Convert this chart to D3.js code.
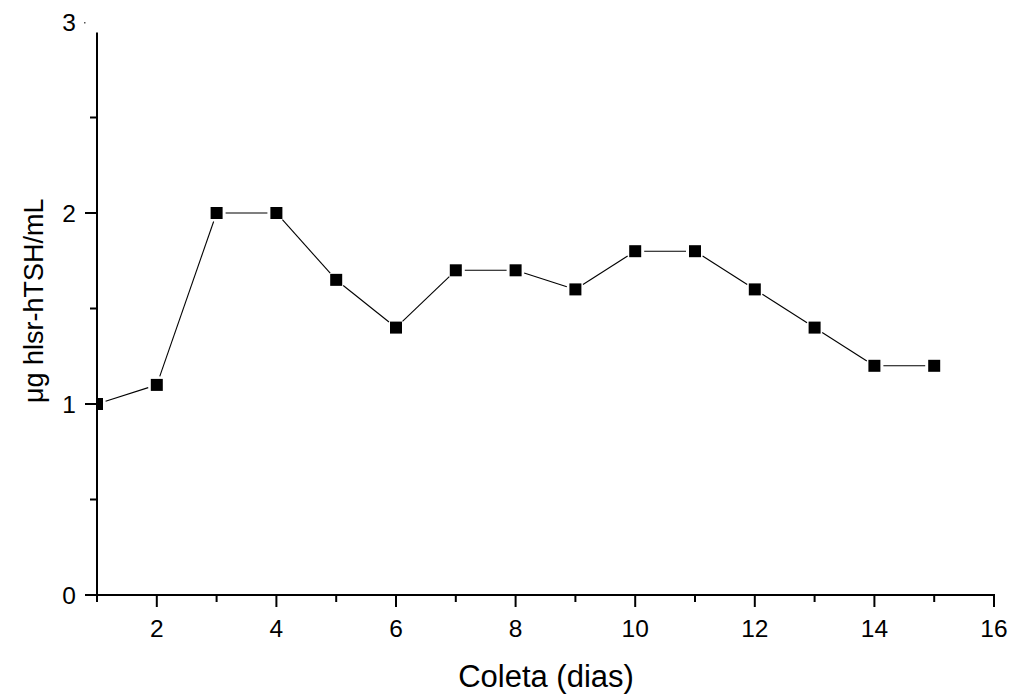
<!DOCTYPE html>
<html>
<head>
<meta charset="utf-8">
<script src="https://cdn.jsdelivr.net/npm/d3@7"></script>
<style>
  html, body { margin: 0; padding: 0; background: #fff; }
  svg { display: block; }
  text { font-family: "Liberation Sans", Arial, sans-serif; fill: #000; }
</style>
</head>
<body>
<svg id="chart" width="1012" height="694"></svg>
<script>
// ---- data ----
const days = [1, 2, 3, 4, 5, 6, 7, 8, 9, 10, 11, 12, 13, 14, 15];
const values = [1.0, 1.1, 2.0, 2.0, 1.65, 1.4, 1.7, 1.7, 1.6, 1.8, 1.8, 1.6, 1.4, 1.2, 1.2];
const xMajorTicks = [2, 4, 6, 8, 10, 12, 14, 16];
const xMinorTicks = [1, 3, 5, 7, 9, 11, 13, 15];
const yMajorTicks = [0, 1, 2, 3];
const yMinorTicks = [0.5, 1.5, 2.5];
const xTitle = "Coleta (dias)";
const yTitle = "\u03BCg hlsr-hTSH/mL";
const yAxisTopValue = 2.945;

// ---- layout ----
const svg = d3.select("#chart");
const x = d3.scaleLinear().domain([1, 16]).range([97, 994]);
const y = d3.scaleLinear().domain([0, 3]).range([595, 22]);

const axisW = 2;
const majorLen = 12, minorLen = 7;

svg.append("defs").append("clipPath").attr("id", "plotclip")
  .append("rect")
  .attr("x", x(1)).attr("y", 0)
  .attr("width", x(16) - x(1) + 10).attr("height", y(0));

// ---- x axis ----
const gx = svg.append("g").attr("transform", `translate(0,${y(0)})`);
gx.append("line")
  .attr("x1", x(1) - majorLen).attr("x2", x(16) + 1)
  .attr("stroke", "#000").attr("stroke-width", axisW);
gx.selectAll(".xmaj").data(xMajorTicks).join("line")
  .attr("x1", d => x(d)).attr("x2", d => x(d))
  .attr("y1", 0).attr("y2", majorLen)
  .attr("stroke", "#000").attr("stroke-width", axisW);
gx.selectAll(".xmin").data(xMinorTicks).join("line")
  .attr("x1", d => x(d)).attr("x2", d => x(d))
  .attr("y1", 0).attr("y2", minorLen)
  .attr("stroke", "#000").attr("stroke-width", axisW);
gx.selectAll(".xlab").data(xMajorTicks).join("text")
  .attr("x", d => x(d)).attr("y", 42)
  .attr("text-anchor", "middle")
  .attr("font-size", 24.5)
  .text(d => d);

// ---- y axis ----
const gy = svg.append("g").attr("transform", `translate(${x(1)},0)`);
gy.append("line")
  .attr("y1", y(0)).attr("y2", y(yAxisTopValue))
  .attr("stroke", "#000").attr("stroke-width", axisW);
gy.selectAll(".ymaj").data(yMajorTicks.filter(d => d < yAxisTopValue)).join("line")
  .attr("y1", d => y(d)).attr("y2", d => y(d))
  .attr("x1", 0).attr("x2", -majorLen)
  .attr("stroke", "#000").attr("stroke-width", axisW);
gy.selectAll(".ytop").data(yMajorTicks.filter(d => d >= yAxisTopValue)).join("rect")
  .attr("x", -majorLen - 1).attr("y", d => y(d))
  .attr("width", 1.5).attr("height", 1.5).attr("fill", "#555");
gy.selectAll(".ymin").data(yMinorTicks).join("line")
  .attr("y1", d => y(d)).attr("y2", d => y(d))
  .attr("x1", 0).attr("x2", -minorLen)
  .attr("stroke", "#000").attr("stroke-width", axisW);
gy.selectAll(".ylab").data(yMajorTicks).join("text")
  .attr("x", -21).attr("y", d => y(d))
  .attr("dy", "0.36em")
  .attr("text-anchor", "end")
  .attr("font-size", 24.5)
  .text(d => d);

// ---- titles ----
svg.append("text")
  .attr("x", 546).attr("y", 687)
  .attr("text-anchor", "middle")
  .attr("font-size", 31)
  .text(xTitle);
svg.append("text")
  .attr("transform", `translate(43,${(y(0) + y(yAxisTopValue)) / 2 - 13}) rotate(-90)`)
  .attr("text-anchor", "middle")
  .attr("font-size", 27)
  .text(yTitle);

// ---- series ----
const pts = days.map((d, i) => ({ x: x(d), y: y(values[i]) }));
const gap = 9;
const segs = [];
for (let i = 0; i < pts.length - 1; i++) {
  const a = pts[i], b = pts[i + 1];
  const dx = b.x - a.x, dy = b.y - a.y, L = Math.hypot(dx, dy);
  const ux = dx / L, uy = dy / L;
  segs.push({ x1: a.x + ux * gap, y1: a.y + uy * gap, x2: b.x - ux * gap, y2: b.y - uy * gap });
}
const gp = svg.append("g").attr("clip-path", "url(#plotclip)");
gp.selectAll(".seg").data(segs).join("line")
  .attr("x1", d => d.x1).attr("y1", d => d.y1)
  .attr("x2", d => d.x2).attr("y2", d => d.y2)
  .attr("stroke", "#000").attr("stroke-width", 1.1);
const ms = 12;
gp.selectAll(".pt").data(pts).join("rect")
  .attr("x", d => d.x - ms / 2).attr("y", d => d.y - ms / 2)
  .attr("width", ms).attr("height", ms)
  .attr("fill", "#000");
</script>
</body>
</html>
